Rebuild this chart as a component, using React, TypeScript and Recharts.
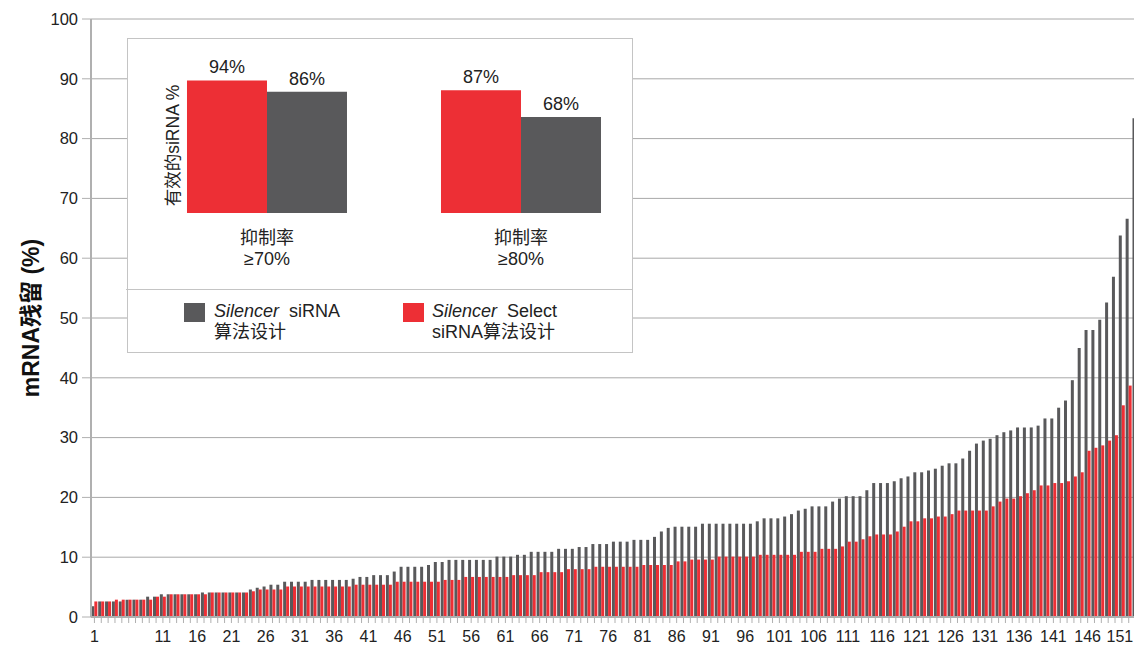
import { BarChart, Bar, XAxis, YAxis, CartesianGrid, LabelList } from 'recharts'

const FONT = "'Liberation Sans', Arial, 'Noto Sans CJK SC', sans-serif"
const RED = '#ed2f35'
const GRAY = '#59595b'
const INK = '#222'

// mRNA remaining (%) per siRNA, each series sorted ascending
const silencerValues = [
  1.8, 2.6, 2.6, 2.6, 2.6, 2.9, 2.9, 2.9, 3.4, 3.4,
  3.8, 3.8, 3.8, 3.8, 3.8, 3.8, 4.1, 4.1, 4.1, 4.1,
  4.1, 4.1, 4.1, 4.6, 4.9, 5.1, 5.4, 5.4, 5.9, 5.9,
  5.9, 5.9, 6.2, 6.2, 6.2, 6.2, 6.2, 6.2, 6.4, 6.7,
  6.7, 7.0, 7.0, 7.0, 7.6, 8.4, 8.4, 8.4, 8.4, 8.7,
  9.2, 9.2, 9.55, 9.55, 9.55, 9.55, 9.55, 9.55, 9.55, 10.1,
  10.1, 10.1, 10.4, 10.4, 10.9, 10.9, 10.9, 10.9, 11.4, 11.4,
  11.4, 11.7, 11.7, 12.2, 12.2, 12.2, 12.6, 12.6, 12.6, 12.9,
  12.9, 12.9, 13.4, 14.3, 14.9, 15.1, 15.1, 15.1, 15.1, 15.6,
  15.6, 15.6, 15.6, 15.6, 15.6, 15.6, 15.6, 16.0, 16.5, 16.5,
  16.5, 16.8, 17.2, 17.8, 18.1, 18.5, 18.5, 18.5, 19.3, 19.8,
  20.2, 20.2, 20.2, 21.2, 22.4, 22.4, 22.4, 22.7, 23.2, 23.5,
  24.2, 24.2, 24.5, 24.8, 25.3, 25.7, 25.7, 26.5, 27.8, 29.0,
  29.5, 29.8, 30.4, 30.9, 31.2, 31.7, 31.7, 31.7, 32.0, 33.2,
  33.2, 35.0, 36.2, 39.6, 45.0, 48.0, 48.0, 49.7, 52.6, 56.9,
  63.8, 66.6, 83.4,
]

const selectValues = [
  2.6, 2.6, 2.6, 2.9, 2.9, 2.9, 2.9, 2.9, 2.9, 3.4,
  3.4, 3.8, 3.8, 3.8, 3.8, 3.8, 3.8, 4.1, 4.1, 4.1,
  4.1, 4.1, 4.1, 4.3, 4.6, 4.6, 4.6, 4.6, 5.1, 5.1,
  5.1, 5.1, 5.1, 5.1, 5.1, 5.1, 5.1, 5.1, 5.4, 5.4,
  5.4, 5.4, 5.4, 5.4, 5.9, 5.9, 5.9, 5.9, 5.9, 5.9,
  5.9, 6.2, 6.2, 6.2, 6.7, 6.7, 6.7, 6.7, 6.7, 6.7,
  6.7, 7.0, 7.0, 7.0, 7.0, 7.5, 7.5, 7.5, 7.5, 8.0,
  8.0, 8.0, 8.0, 8.4, 8.4, 8.4, 8.4, 8.4, 8.4, 8.4,
  8.7, 8.7, 8.7, 8.7, 8.7, 9.3, 9.3, 9.6, 9.6, 9.6,
  9.6, 10.1, 10.1, 10.1, 10.1, 10.1, 10.1, 10.4, 10.4, 10.4,
  10.4, 10.4, 10.4, 10.9, 10.9, 10.9, 11.4, 11.4, 11.4, 11.8,
  12.6, 12.6, 13.0, 13.5, 13.8, 13.8, 13.8, 14.3, 15.1, 16.0,
  16.0, 16.5, 16.5, 16.8, 16.8, 17.2, 17.8, 17.8, 17.8, 17.8,
  17.8, 18.5, 19.3, 19.8, 19.8, 20.2, 20.7, 21.2, 22.0, 22.0,
  22.4, 22.4, 22.7, 23.5, 24.2, 27.8, 28.3, 28.7, 29.5, 30.4,
  35.4, 38.7, 41.0,
]

const xTickLabels = [1, 11, 16, 21, 26, 31, 36, 41, 46, 51, 56, 61, 66, 71, 76, 81, 86, 91, 96, 101, 106, 111, 116, 121, 126, 131, 136, 141, 146, 151]
const yTicks = [0, 10, 20, 30, 40, 50, 60, 70, 80, 90, 100]

// inset: share of effective siRNA (%)
const insetThresholdTop = ['抑制率', '抑制率']
const insetThresholdBottom = ['≥70%', '≥80%']
const insetSelect = [94, 87]
const insetSilencer = [86, 68]

const mainData = silencerValues.map((v, i) => ({ idx: i + 1, silencer: v, select: selectValues[i] }))
const insetData = insetSelect.map((v, i) => ({
  name: i,
  select: v,
  silencer: insetSilencer[i],
}))

function XTick({ x, y, payload }: any) {
  if (!xTickLabels.includes(payload.value)) return <g />
  // the last label sits against the right edge of the picture
  const nudge = payload.value === 151 ? -2 : 0
  return (
    <text x={x + nudge} y={y} dy={17} textAnchor="middle" fontSize={16} fill={INK} fontFamily={FONT}>
      {payload.value}
    </text>
  )
}

function InsetTick({ x, y, payload }: any) {
  const i = payload.value
  return (
    <text x={x} textAnchor="middle" fontSize={18} fill={INK} fontFamily={FONT}>
      <tspan x={x} y={y + 31}>{insetThresholdTop[i]}</tspan>
      <tspan x={x} y={y + 52}>{insetThresholdBottom[i]}</tspan>
    </text>
  )
}

const pct = (v: any) => `${v}%`

export default function App() {
  return (
    <div
      style={{
        position: 'fixed',
        left: 0,
        top: 0,
        width: 1134,
        height: 646,
        overflow: 'hidden',
        background: '#fff',
        fontFamily: FONT,
        color: INK,
      }}
    >
      <BarChart
        width={1139}
        height={646}
        data={mainData}
        margin={{ top: 19, right: 0, bottom: 0, left: 0 }}
        barGap={0}
        barCategoryGap="5%"
      >
        <CartesianGrid vertical={false} stroke="#a8a8a8" />
        <XAxis
          dataKey="idx"
          interval={0}
          height={29}
          tickSize={6}
          tickMargin={2}
          tick={<XTick />}
          axisLine={{ stroke: '#b0b0b0', strokeWidth: 2 }}
          tickLine={{ stroke: '#b0b0b0' }}
        />
        <YAxis
          width={91}
          domain={[0, 100]}
          ticks={yTicks}
          interval={0}
          tickSize={9}
          tickMargin={4}
          tick={{ fontSize: 16.5, fill: INK, fontFamily: FONT }}
          axisLine={{ stroke: '#b0b0b0', strokeWidth: 2 }}
          tickLine={{ stroke: '#b0b0b0' }}
        />
        <Bar dataKey="silencer" fill={GRAY} isAnimationActive={false} />
        <Bar dataKey="select" fill={RED} isAnimationActive={false} />
      </BarChart>

      <div
        style={{
          position: 'absolute',
          left: 7,
          top: 318,
          width: 44,
          height: 0,
          display: 'flex',
          justifyContent: 'center',
          alignItems: 'center',
        }}
      >
        <div style={{ transform: 'rotate(-90deg)', whiteSpace: 'nowrap', fontSize: 23, fontWeight: 'bold', color: '#111' }}>
          mRNA残留 (%)
        </div>
      </div>

      {/* inset panel */}
      <div
        style={{
          position: 'absolute',
          left: 127,
          top: 38,
          width: 506,
          height: 315,
          boxSizing: 'border-box',
          border: '1px solid #c4c4c4',
          background: '#fff',
        }}
      >
        <div style={{ position: 'absolute', left: -2, right: 0, top: 250, height: 1, background: '#c4c4c4' }} />
      </div>

      <div style={{ position: 'absolute', left: 130, top: 38 }}>
        <BarChart
          width={530}
          height={250}
          data={insetData}
          margin={{ top: 34, right: 12, bottom: 0, left: 10 }}
          barGap={0}
          barCategoryGap="18.5%"
        >
          <XAxis
            dataKey="name"
            height={75}
            axisLine={false}
            tickLine={false}
            tickSize={0}
            tickMargin={0}
            tick={<InsetTick />}
          />
          <YAxis hide domain={[0, 100]} />
          <Bar dataKey="select" fill={RED} isAnimationActive={false}>
            <LabelList dataKey="select" position="top" offset={7} formatter={pct} fontSize={18} fill={INK} fontFamily={FONT} />
          </Bar>
          <Bar dataKey="silencer" fill={GRAY} isAnimationActive={false}>
            <LabelList dataKey="silencer" position="top" offset={7} formatter={pct} fontSize={18} fill={INK} fontFamily={FONT} />
          </Bar>
        </BarChart>
      </div>

      <div
        style={{
          position: 'absolute',
          left: 150,
          top: 145,
          width: 44,
          height: 0,
          display: 'flex',
          justifyContent: 'center',
          alignItems: 'center',
        }}
      >
        <div style={{ transform: 'rotate(-90deg)', whiteSpace: 'nowrap', fontSize: 17.5 }}>有效的siRNA %</div>
      </div>

      {/* legend */}
      <div style={{ position: 'absolute', left: 184, top: 303, width: 21, height: 19, background: GRAY }} />
      <div style={{ position: 'absolute', left: 214, top: 301, fontSize: 18, lineHeight: '21px' }}>
        <div>
          <i>Silencer</i>&nbsp; siRNA
        </div>
        <div>算法设计</div>
      </div>
      <div style={{ position: 'absolute', left: 403, top: 303, width: 21, height: 19, background: RED }} />
      <div style={{ position: 'absolute', left: 432, top: 301, fontSize: 18, lineHeight: '21px' }}>
        <div>
          <i>Silencer</i>&nbsp; Select
        </div>
        <div>siRNA算法设计</div>
      </div>
    </div>
  )
}
